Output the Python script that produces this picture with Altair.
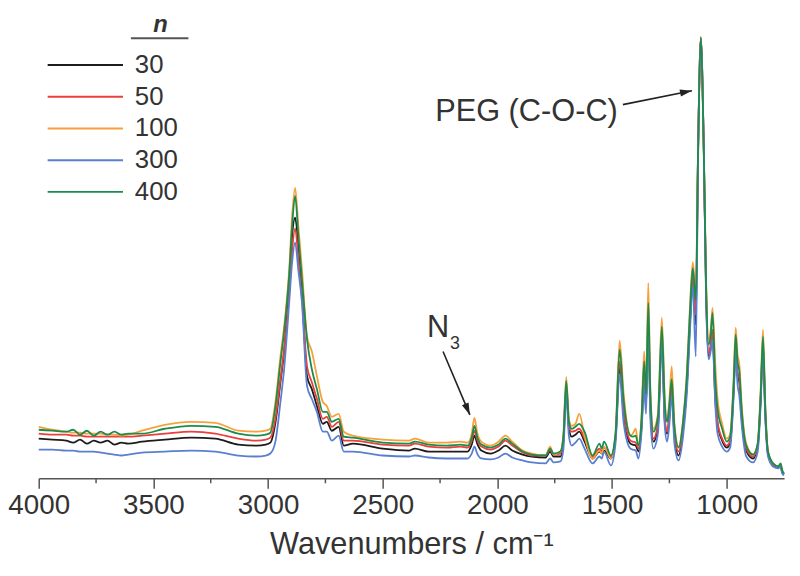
import math
import altair as alt
import pandas as pd

# ---------------- data ----------------
WAVENUMBER = [4000, 3940, 3880, 3850, 3820, 3790, 3760, 3730, 3700, 3670, 3640, 3610,
              3550, 3450, 3335, 3230, 3130, 3050, 3010, 2990,
              2968, 2946, 2930, 2908, 2895, 2882, 2868, 2852,
              2830, 2809, 2787, 2761, 2744, 2722, 2692, 2670, 2630,
              2500, 2385, 2360, 2300, 2220, 2160, 2130,
              2112, 2100, 2088, 2070, 2030,
              1995, 1965, 1935, 1890, 1850, 1790, 1770, 1755, 1725,
              1712, 1700, 1688, 1676, 1660, 1643, 1620,
              1585, 1555, 1545, 1535, 1505,
              1485, 1467, 1450, 1420, 1410, 1397, 1385,
              1372, 1360, 1352, 1342, 1333, 1320, 1300,
              1283, 1270, 1260, 1250, 1240, 1228, 1210,
              1190, 1174, 1160, 1148, 1135, 1125, 1113,
              1100, 1090, 1079, 1070, 1062, 1050, 1040, 1020,
              1000, 985, 970, 961, 953, 945, 935, 915,
              885, 865, 852, 842, 832, 820, 798, 775, 765, 758, 750]

I_100 = [52, 49, 47, 46, 46, 45, 45, 45, 44, 44, 43, 44,
         48, 54, 57, 56, 48, 47, 48, 50,
         77, 123, 153, 210, 265, 293, 255, 210,
         143, 128, 103, 77, 73, 62, 65, 47, 43,
         39, 38, 40, 36, 36, 37, 36,
         45, 61, 46, 37, 33,
         37, 43, 37, 28, 25, 23, 32, 24, 27,
         45, 102, 60, 53, 55, 65, 43,
         20, 28, 25, 32, 20,
         45, 139, 87, 43, 45, 50, 33,
         60, 128, 90, 197, 90, 50, 65,
         162, 80, 58, 80, 113, 55, 32,
         60, 107, 175, 218, 185, 330, 445,
         330, 200, 140, 150, 172, 115, 80, 55,
         40, 45, 100, 152, 125, 115, 75, 35,
         24, 35, 90, 150, 75, 27, 15, 12, 14, 6, 4]

I_400 = [49, 48, 47, 49, 44, 48, 43, 47, 44, 47, 44, 45,
         45, 50, 53, 52, 45, 43, 44, 46,
         72, 117, 148, 205, 255, 285, 245, 200,
         140, 110, 90, 67, 67, 57, 60, 42, 41,
         36, 35, 37, 34, 33, 34, 33,
         41, 53, 42, 34, 31,
         34, 40, 35, 27, 24, 23, 30, 25, 27,
         43, 98, 57, 50, 52, 55, 47,
         23, 35, 30, 37, 23,
         45, 130, 80, 43, 42, 43, 33,
         58, 118, 85, 177, 85, 47, 62,
         153, 75, 57, 75, 100, 52, 31,
         58, 103, 170, 212, 180, 330, 445,
         330, 195, 135, 145, 167, 100, 70, 50,
         37, 42, 95, 145, 118, 108, 70, 33,
         24, 35, 85, 143, 72, 27, 15, 12, 15, 8, 5]

I_50 = [45, 44, 44, 43, 43, 42, 42, 42, 42, 42, 42, 42,
        43, 45, 47, 45, 40, 38, 39, 41,
        60, 100, 130, 185, 230, 252, 222, 180,
        113, 97, 80, 60, 62, 52, 57, 38, 38,
        34, 33, 35, 32, 31, 32, 31,
        38, 48, 39, 32, 29,
        32, 38, 33, 26, 23, 23, 29, 24, 25,
        40, 94, 52, 47, 48, 50, 40,
        22, 30, 27, 31, 22,
        42, 118, 70, 38, 37, 36, 30,
        52, 105, 75, 160, 75, 40, 55,
        143, 60, 47, 65, 92, 45, 27,
        52, 95, 160, 205, 165, 330, 444,
        330, 190, 125, 135, 150, 85, 57, 40,
        33, 38, 90, 135, 108, 100, 65, 30,
        22, 33, 82, 138, 68, 26, 14, 12, 13, 6, 4]

I_30 = [40, 39, 38, 36, 39, 35, 38, 36, 38, 34, 36, 35,
        37, 39, 41, 40, 34, 33, 34, 36,
        56, 97, 128, 195, 245, 263, 235, 190,
        103, 90, 73, 55, 57, 48, 52, 33, 35,
        30, 28, 30, 27, 27, 27, 27,
        34, 43, 35, 28, 25,
        28, 33, 28, 24, 22, 21, 27, 22, 22,
        38, 92, 50, 42, 44, 47, 37,
        20, 27, 25, 28, 20,
        40, 113, 65, 35, 34, 33, 27,
        50, 100, 72, 158, 70, 37, 52,
        140, 57, 45, 62, 90, 42, 23,
        50, 93, 158, 202, 155, 330, 444,
        330, 185, 123, 132, 145, 80, 55, 38,
        31, 36, 88, 130, 103, 97, 62, 28,
        20, 32, 80, 135, 66, 25, 14, 11, 13, 6, 4]

I_300 = [29, 29, 28, 28, 27, 27, 27, 26, 25, 24, 23, 24,
         26, 27, 28, 27, 23, 22, 23, 25,
         37, 77, 110, 177, 218, 238, 210, 177,
         93, 80, 67, 47, 47, 38, 43, 27, 27,
         23, 22, 23, 21, 20, 20, 20,
         25, 32, 25, 20, 19,
         21, 25, 21, 18, 16, 15, 20, 16, 17,
         30, 85, 42, 33, 36, 40, 30,
         15, 22, 20, 27, 13,
         35, 105, 57, 30, 29, 28, 20,
         45, 93, 65, 150, 60, 30, 45,
         137, 52, 37, 55, 83, 35, 18,
         43, 85, 150, 195, 123, 320, 443,
         333, 180, 120, 128, 140, 75, 45, 32,
         27, 31, 82, 125, 95, 83, 55, 22,
         16, 27, 75, 130, 62, 22, 12, 10, 12, 5, 3]

N_LABELS = ["30", "50", "100", "300", "400"]
SERIES = [I_30, I_50, I_100, I_300, I_400]
COLORS = ["#1c1c1c", "#ea3f3c", "#f7a03c", "#5a7fd0", "#1b8c4b"]

MAJOR_TICKS = [4000, 3500, 3000, 2500, 2000, 1500, 1000]
MINOR_TICKS = [3750, 3250, 2750, 2250, 1750, 1250]

# annotations (data coordinates)
PEG_TEXT, PEG_X, PEG_Y = "PEG (C-O-C)", 1475, 360
N3_TEXT, N3_X, N3_Y = "N", 2259, 143
SUB_TEXT, SUB_X, SUB_Y = "3", 2207, 130
ARROW_X1 = [1453, 2237]
ARROW_Y1 = [377, 128]
ARROW_X2 = [1152, 2120]
ARROW_Y2 = [391, 64]

# ---------------- layout ----------------
W, H = 752, 450
X_MIN, X_MAX = 750, 4000
Y_MAX = 450
PX_X = W / (X_MAX - X_MIN)
PX_Y = H / Y_MAX

rows = []
for lab, vals in zip(N_LABELS, SERIES):
    for w, v in zip(WAVENUMBER, vals):
        rows.append({"wn": w, "I": v, "n": lab})
df = pd.DataFrame(rows)

xscale = alt.Scale(domain=[X_MIN, X_MAX], reverse=True, nice=False, zero=False)
yscale = alt.Scale(domain=[0, Y_MAX], nice=False, zero=True)
cscale = alt.Scale(domain=N_LABELS, range=COLORS)
FONT = "Liberation Sans"
TXT = "#333333"

lines = alt.Chart(df).mark_line(strokeWidth=1.8, interpolate="monotone").encode(
    x=alt.X("wn:Q", scale=xscale,
            axis=alt.Axis(values=MAJOR_TICKS, title="Wavenumbers / cm\u207b\u00b9",
                          grid=False, tickSize=10, tickWidth=1.5, tickColor="#555555",
                          domainColor="#555555", domainWidth=1.5,
                          labelFontSize=28, labelFont=FONT, labelColor=TXT, labelPadding=4,
                          labelFlush=False, labelOverlap=False,
                          titleFontSize=31, titleFont=FONT, titleFontWeight="normal",
                          titleColor=TXT, titlePadding=10, format="d")),
    y=alt.Y("I:Q", scale=yscale, axis=None),
    color=alt.Color("n:N", scale=cscale, legend=None),
    order=alt.Order("wn:Q", sort="descending"),
)

minor = alt.Chart(pd.DataFrame({"wn": MINOR_TICKS})).mark_rule(
    color="#555555", strokeWidth=1.5).encode(
    x=alt.X("wn:Q", scale=xscale), y=alt.value(H), y2=alt.value(H + 5))

# manual legend
leg_df = pd.DataFrame({"n": N_LABELS, "idx": list(range(len(N_LABELS)))})
leg_base = alt.Chart(leg_df).transform_calculate(ly="417 - 32*datum.idx")
leg_lines = leg_base.mark_rule(strokeWidth=2).encode(
    x=alt.value(9), x2=alt.value(85),
    y=alt.Y("ly:Q", scale=yscale),
    color=alt.Color("n:N", scale=cscale, legend=None))
leg_text = leg_base.mark_text(align="left", baseline="middle", fontSize=26,
                              font=FONT, color=TXT).encode(
    x=alt.value(97), y=alt.Y("ly:Q", scale=yscale), text="n:N")
leg_title = alt.Chart(pd.DataFrame({"t": ["n"]})).mark_text(
    align="center", baseline="alphabetic", fontSize=24, fontStyle="italic",
    fontWeight="bold", font=FONT, color=TXT).encode(
    x=alt.value(123), y=alt.value(0), text="t:N")
leg_under = alt.Chart(pd.DataFrame({"t": [0]})).mark_rule(
    color="#555555", strokeWidth=2).encode(
    x=alt.value(93), x2=alt.value(151), y=alt.value(6))

# annotations
ann_peg = alt.Chart(pd.DataFrame({"t": [PEG_TEXT], "x": [PEG_X], "y": [PEG_Y]})).mark_text(
    align="right", baseline="alphabetic", fontSize=31, font=FONT, color=TXT).encode(
    x=alt.X("x:Q", scale=xscale), y=alt.Y("y:Q", scale=yscale), text="t:N")
ann_n = alt.Chart(pd.DataFrame({"t": [N3_TEXT], "x": [N3_X], "y": [N3_Y]})).mark_text(
    align="center", baseline="alphabetic", fontSize=31, font=FONT, color=TXT).encode(
    x=alt.X("x:Q", scale=xscale), y=alt.Y("y:Q", scale=yscale), text="t:N")
ann_sub = alt.Chart(pd.DataFrame({"t": [SUB_TEXT], "x": [SUB_X], "y": [SUB_Y]})).mark_text(
    align="left", baseline="alphabetic", fontSize=18, font=FONT, color=TXT).encode(
    x=alt.X("x:Q", scale=xscale), y=alt.Y("y:Q", scale=yscale), text="t:N")

angles = []
for x1, y1, x2, y2 in zip(ARROW_X1, ARROW_Y1, ARROW_X2, ARROW_Y2):
    dx = -(x2 - x1) * PX_X          # reversed x axis
    dy = -(y2 - y1) * PX_Y          # screen y grows downward
    angles.append(math.degrees(math.atan2(dy, dx)) % 360)
arr_df = pd.DataFrame({"x1": ARROW_X1, "y1": ARROW_Y1, "x2": ARROW_X2,
                       "y2": ARROW_Y2, "ang": angles})
arrow_lines = alt.Chart(arr_df).mark_rule(color="#222222", strokeWidth=1.6).encode(
    x=alt.X("x1:Q", scale=xscale), x2="x2:Q",
    y=alt.Y("y1:Q", scale=yscale), y2="y2:Q")
arrow_heads = alt.Chart(arr_df).mark_point(
    shape="M0,0L-3,-0.9L-3,0.9Z", filled=True, color="#222222", size=64, opacity=1).encode(
    x=alt.X("x2:Q", scale=xscale), y=alt.Y("y2:Q", scale=yscale),
    angle=alt.Angle("ang:Q", scale=None))

chart = alt.layer(
    minor, lines, leg_lines, leg_text, leg_title, leg_under,
    ann_peg, ann_n, ann_sub, arrow_lines, arrow_heads
).properties(
    width=W, height=H,
    autosize=alt.AutoSizeParams(type="none"),
    padding={"left": 31, "top": 22, "right": 8, "bottom": 90},
).configure(font=FONT).configure_view(stroke=None)

chart.save("out.html", embed_options={"renderer": "svg", "actions": False})
